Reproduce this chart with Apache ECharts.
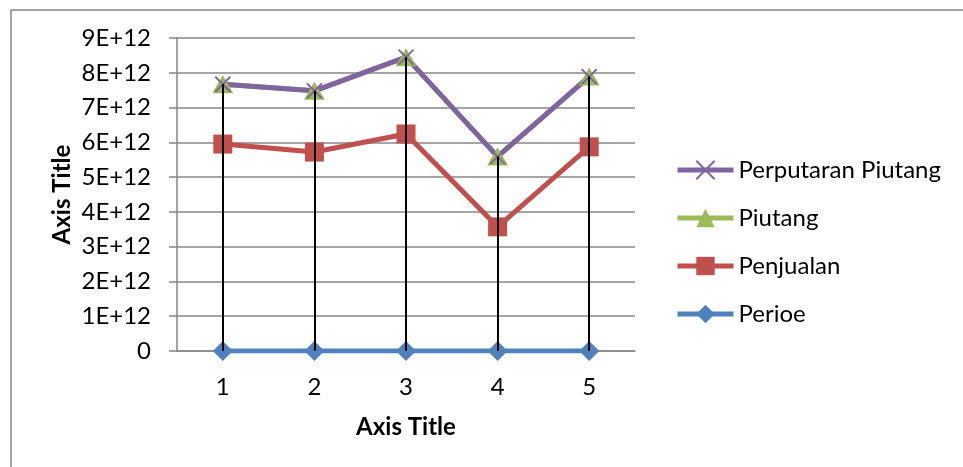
<!DOCTYPE html>
<html>
<head>
<meta charset="utf-8">
<script src="https://cdn.jsdelivr.net/npm/echarts@6/dist/echarts.min.js"></script>
<style>html,body{margin:0;padding:0;background:#fff}#c{width:963px;height:467px}</style>
</head>
<body>
<div id="c"></div>
<script>
var categories = ['1', '2', '3', '4', '5'];
var perioe = [1, 2, 3, 4, 5];
var penjualan = [5.95e12, 5.72e12, 6.24e12, 3.57e12, 5.87e12];
var piutang = [1.72e12, 1.76e12, 2.21e12, 2.02e12, 2.02e12];
var perputaranPiutang = [3.46, 3.25, 2.82, 1.77, 2.91];
var yTicks = ['0', '1E+12', '2E+12', '3E+12', '4E+12', '5E+12', '6E+12', '7E+12', '8E+12', '9E+12'];

var FONT = 'Lato';
var FS = 24;
var tops = categories.map(function (c, i) {
  return perioe[i] + penjualan[i] + piutang[i] + perputaranPiutang[i];
});
var dropLines = categories.map(function (c, i) {
  return [{ coord: [c, 0] }, { coord: [c, tops[i]] }];
});

var chart = echarts.init(document.getElementById('c'), null, { renderer: 'canvas' });
chart.setOption({
  animation: false,
  backgroundColor: '#fff',
  graphic: [{
    type: 'rect', silent: true, z: 0,
    shape: { x: 11, y: 10, width: 1200, height: 1200 },
    style: { fill: 'none', stroke: '#878787', lineWidth: 1.5 }
  }],
  grid: { left: 177, right: 328, top: 38, bottom: 116, containLabel: false },
  legend: {
    orient: 'vertical', left: 675, top: 158, padding: 0,
    itemWidth: 56, itemHeight: 23, itemGap: 24,
    lineStyle: { width: 5 },
    textStyle: { fontFamily: FONT, fontSize: FS, color: '#000' },
    data: ['Perputaran Piutang', 'Piutang', 'Penjualan', 'Perioe']
  },
  xAxis: {
    type: 'category', data: categories, boundaryGap: true,
    name: 'Axis Title', nameLocation: 'middle', nameGap: 64,
    nameTextStyle: { fontFamily: FONT, fontSize: FS, fontWeight: 'bold', color: '#000' },
    axisLine: { lineStyle: { color: '#878787', width: 1.5 } },
    axisTick: { show: false },
    axisLabel: { fontFamily: FONT, fontSize: FS, color: '#000', margin: 24 }
  },
  yAxis: {
    type: 'value', min: 0, max: 9e12, interval: 1e12,
    name: 'Axis Title', nameLocation: 'middle', nameGap: 103, nameRotate: 90,
    nameTextStyle: { fontFamily: FONT, fontSize: FS, fontWeight: 'bold', color: '#000' },
    axisLine: { show: true, lineStyle: { color: '#878787', width: 1.5 } },
    axisTick: { show: true, length: 8, lineStyle: { color: '#878787', width: 1.5 } },
    splitLine: { lineStyle: { color: '#878787', width: 1.5 } },
    axisLabel: {
      fontFamily: FONT, fontSize: FS, color: '#000', margin: 26,
      formatter: function (v) { return yTicks[Math.round(v / 1e12)]; }
    }
  },
  series: [
    {
      name: 'Perioe', type: 'line', stack: 'total', data: perioe,
      symbol: 'diamond', symbolSize: [20, 20],
      lineStyle: { color: '#4F81BD', width: 5 },
      itemStyle: { color: '#4F81BD' }
    },
    {
      name: 'Penjualan', type: 'line', stack: 'total', data: penjualan,
      symbol: 'rect', symbolSize: 19,
      lineStyle: { color: '#C0504D', width: 5 },
      itemStyle: { color: '#C0504D' }
    },
    {
      name: 'Piutang', type: 'line', stack: 'total', data: piutang,
      symbol: 'triangle', symbolSize: [21, 18],
      lineStyle: { color: '#9BBB59', width: 5 },
      itemStyle: { color: '#9BBB59' }
    },
    {
      name: 'Perputaran Piutang', type: 'line', stack: 'total', data: perputaranPiutang,
      symbol: 'path://M0,0L10,10M10,0L0,10', symbolSize: 15,
      lineStyle: { color: '#8064A2', width: 5 },
      itemStyle: { color: '#8064A2', borderColor: '#8064A2', borderWidth: 2 }
    },
    {
      name: 'drop', type: 'line', data: [], z: 10, silent: true,
      markLine: {
        silent: true, symbol: 'none', animation: false, z: 10,
        label: { show: false },
        lineStyle: { color: '#000', width: 2, type: 'solid' },
        data: dropLines
      }
    }
  ]
});
</script>
</body>
</html>
